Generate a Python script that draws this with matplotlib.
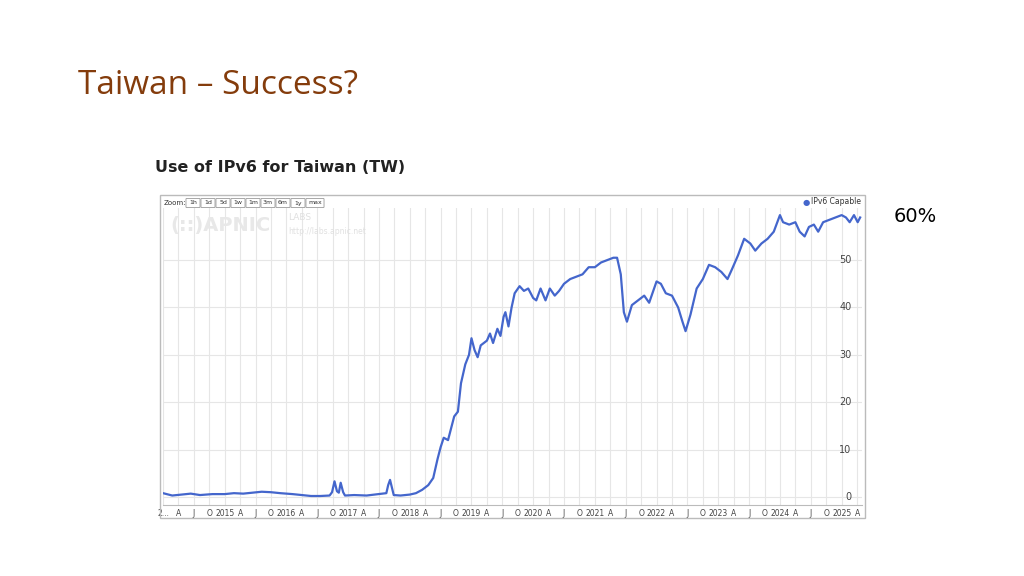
import matplotlib
matplotlib.use("Agg")
import matplotlib.pyplot as plt
from matplotlib.patches import Rectangle, FancyBboxPatch
from matplotlib.transforms import blended_transform_factory

t = [2014.0,2014.15,2014.3,2014.45,2014.6,2014.8,2015.0,2015.15,2015.3,2015.45,2015.6,2015.75,2015.9,2016.1,2016.25,2016.4,2016.55,2016.7,2016.74,2016.78,2016.82,2016.85,2016.88,2016.92,2016.95,2017.1,2017.3,2017.5,2017.62,2017.65,2017.68,2017.71,2017.74,2017.85,2018.0,2018.1,2018.2,2018.3,2018.38,2018.45,2018.5,2018.55,2018.62,2018.68,2018.72,2018.78,2018.83,2018.9,2018.96,2019.0,2019.05,2019.1,2019.15,2019.25,2019.3,2019.35,2019.42,2019.47,2019.52,2019.55,2019.6,2019.65,2019.7,2019.78,2019.85,2019.92,2020.0,2020.05,2020.12,2020.2,2020.27,2020.35,2020.42,2020.5,2020.6,2020.7,2020.8,2020.9,2021.0,2021.1,2021.2,2021.3,2021.36,2021.42,2021.47,2021.52,2021.6,2021.7,2021.8,2021.88,2022.0,2022.07,2022.15,2022.25,2022.35,2022.42,2022.47,2022.55,2022.65,2022.75,2022.85,2022.95,2023.05,2023.15,2023.22,2023.32,2023.42,2023.52,2023.6,2023.7,2023.8,2023.9,2024.0,2024.05,2024.15,2024.25,2024.32,2024.4,2024.47,2024.55,2024.62,2024.7,2024.8,2024.9,2025.0,2025.07,2025.13,2025.2,2025.26,2025.3]
v = [0.8,0.3,0.5,0.7,0.4,0.6,0.6,0.8,0.7,0.9,1.1,1.0,0.8,0.6,0.4,0.2,0.2,0.3,1.0,3.3,1.2,0.9,3.0,1.0,0.3,0.4,0.3,0.6,0.8,2.5,3.6,2.0,0.4,0.3,0.5,0.8,1.5,2.5,4.0,8.0,10.5,12.5,12.0,15.0,17.0,18.0,24.0,28.0,30.0,33.5,31.0,29.5,32.0,33.0,34.5,32.5,35.5,34.0,38.0,39.0,36.0,40.0,43.0,44.5,43.5,44.0,42.0,41.5,44.0,41.5,44.0,42.5,43.5,45.0,46.0,46.5,47.0,48.5,48.5,49.5,50.0,50.5,50.5,47.0,39.0,37.0,40.5,41.5,42.5,41.0,45.5,45.0,43.0,42.5,40.0,37.0,35.0,38.5,44.0,46.0,49.0,48.5,47.5,46.0,48.0,51.0,54.5,53.5,52.0,53.5,54.5,56.0,59.5,58.0,57.5,58.0,56.0,55.0,57.0,57.5,56.0,58.0,58.5,59.0,59.5,59.0,58.0,59.5,58.0,59.0]

yticks = [0, 10, 20, 30, 40, 50]
quarters = [2014 + q * 0.25 for q in range(46)]
qlab = []
for x in quarters:
    yr = int(round(x * 4)) // 4
    q = int(round(x * 4)) % 4
    if q == 0:
        qlab.append("2..." if yr == 2014 else str(yr))
    else:
        qlab.append("AJO"[q - 1])

fig = plt.figure(figsize=(10.24, 5.76), dpi=100)
W, H = 1024, 576
fig.text(78/W, 1 - 85/H, "Taiwan – Success?", fontsize=24, color="#843C0C",
         family="Open Sans", va="center", ha="left")
fig.text(155/W, 1 - 167/H, "Use of IPv6 for Taiwan (TW)", fontsize=11.5,
         fontweight="bold", color="#222222", va="center", ha="left")
fig.text(915/W, 1 - 216/H, "60%", fontsize=14, color="black", va="center", ha="center")

fig.patches.append(Rectangle((160/W, 1 - 518/H), 705/W, 323/H, transform=fig.transFigure,
                             fill=False, edgecolor="#bbbbbb", lw=1))

ax = fig.add_axes([163/W, 1 - 505/H, 699/W, 297/H])
ax.plot(t, v, color="#4466cc", lw=1.6)
ax.set_xlim(2014.0, 2025.33)
ax.set_ylim(-1.7, 61)
ax.set_xticks(quarters)
ax.set_xticklabels(qlab, fontsize=5.5, color="#444444")
ax.set_yticks(yticks)
ax.set_yticklabels([])
ax.tick_params(axis="y", length=0)
ax.tick_params(axis="x", length=0, pad=3)
ax.grid(True, color="#e6e6e6", lw=0.8)
for s in ["top", "left", "right"]:
    ax.spines[s].set_visible(False)
ax.spines["bottom"].set_color("#bbbbbb")
ax.set_axisbelow(True)
tr = blended_transform_factory(ax.transAxes, ax.transData)
for y in yticks:
    ax.text(0.985, y, str(y), transform=tr, fontsize=7, color="#444444",
            ha="right", va="center")

fig.text(164/W, 1 - 203/H, "Zoom:", fontsize=5, va="center", color="#333333")
bx = 187
for b in ["1h", "1d", "5d", "1w", "1m", "3m", "6m", "1y", "max"]:
    w = 12 if b != "max" else 16
    fig.patches.append(FancyBboxPatch((bx/W, 1 - 207/H), w/W, 8/H, boxstyle="round,pad=0.001",
                                      transform=fig.transFigure, fill=False, edgecolor="#999999", lw=0.6))
    fig.text((bx + w/2)/W, 1 - 203/H, b, fontsize=4.5, ha="center", va="center", color="#333333")
    bx += w + 3

fig.text(170/W, 1 - 226/H, "(::)APNIC", fontsize=14, fontweight="bold", color="#e8e8e8", va="center")
fig.text(288/W, 1 - 218/H, "LABS", fontsize=6.5, color="#e0e0e0", va="center")
fig.text(288/W, 1 - 232/H, "http://labs.apnic.net", fontsize=5.5, color="#e0e0e0", va="center")

fig.text(806/W, 1 - 202/H, "●", fontsize=6, color="#4466cc", va="center", ha="center")
fig.text(811/W, 1 - 202/H, "IPv6 Capable", fontsize=5.5, color="#333333", va="center")

fig.savefig("out.png", dpi=100)
